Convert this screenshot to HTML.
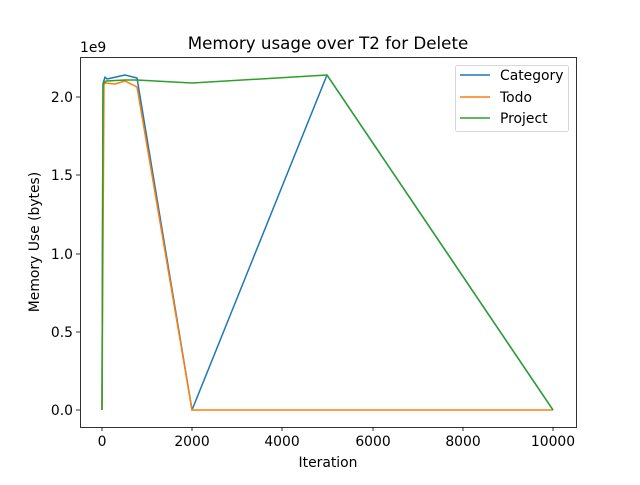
<!DOCTYPE html>
<html><head><meta charset="utf-8"><style>
html,body{margin:0;padding:0;background:#fff;}
text{font-family:"DejaVu Sans","Liberation Sans",sans-serif;fill:#000;}
</style></head><body>
<svg width="640" height="480" viewBox="0 0 640 480" xmlns="http://www.w3.org/2000/svg">
<rect width="640" height="480" fill="#fff"/>
<text x="328" y="49" font-size="16.7" text-anchor="middle">Memory usage over T2 for Delete</text>
<g fill="none" stroke-width="1.5" stroke-linejoin="round">
<polyline stroke="#1f77b4" points="102,410 103,84 105,77 107,79 125,75 137,78 192,410 327,75 553,410"/>
<polyline stroke="#ff7f0e" points="102,410 104,84 106,83 115,84 125,81 137,87 192,410 553,410"/>
<polyline stroke="#2ca02c" points="102,410 103,84 106,81 125,80 137,80 192,83 327,75 553,410"/>
</g>
<rect x="80.5" y="57.5" width="496" height="370" fill="none" stroke="#000" stroke-width="0.8"/>
<g stroke="#000" stroke-width="0.8">
<line x1="102" y1="427" x2="102" y2="431"/><line x1="192" y1="427" x2="192" y2="431"/>
<line x1="282" y1="427" x2="282" y2="431"/><line x1="373" y1="427" x2="373" y2="431"/>
<line x1="463" y1="427" x2="463" y2="431"/><line x1="553" y1="427" x2="553" y2="431"/>
<line x1="76" y1="410" x2="80" y2="410"/><line x1="76" y1="332" x2="80" y2="332"/>
<line x1="76" y1="254" x2="80" y2="254"/><line x1="76" y1="175" x2="80" y2="175"/>
<line x1="76" y1="97" x2="80" y2="97"/>
</g>
<g font-size="13.9" text-anchor="middle">
<text x="102" y="446">0</text><text x="192" y="446">2000</text><text x="282" y="446">4000</text>
<text x="373" y="446">6000</text><text x="463" y="446">8000</text><text x="553" y="446">10000</text>
<text x="328" y="467">Iteration</text>
</g>
<g font-size="13.9" text-anchor="end">
<text x="73" y="415">0.0</text><text x="73" y="337">0.5</text><text x="73" y="259">1.0</text>
<text x="73" y="180">1.5</text><text x="73" y="102">2.0</text>
</g>
<text x="80" y="52" font-size="13.9">1e9</text>
<text transform="translate(39,242) rotate(-90)" font-size="13.9" text-anchor="middle">Memory Use (bytes)</text>
<rect x="455.5" y="65.5" width="113" height="66" rx="2" fill="#fff" stroke="#ccc" stroke-width="0.8"/>
<line x1="460" y1="75" x2="490" y2="75" stroke="#1f77b4" stroke-width="1.5"/>
<line x1="460" y1="97" x2="490" y2="97" stroke="#ff7f0e" stroke-width="1.5"/>
<line x1="460" y1="118" x2="490" y2="118" stroke="#2ca02c" stroke-width="1.5"/>
<g font-size="13.9"><text x="500" y="80">Category</text><text x="500" y="102">Todo</text><text x="500" y="123">Project</text></g>
</svg>
</body></html>
